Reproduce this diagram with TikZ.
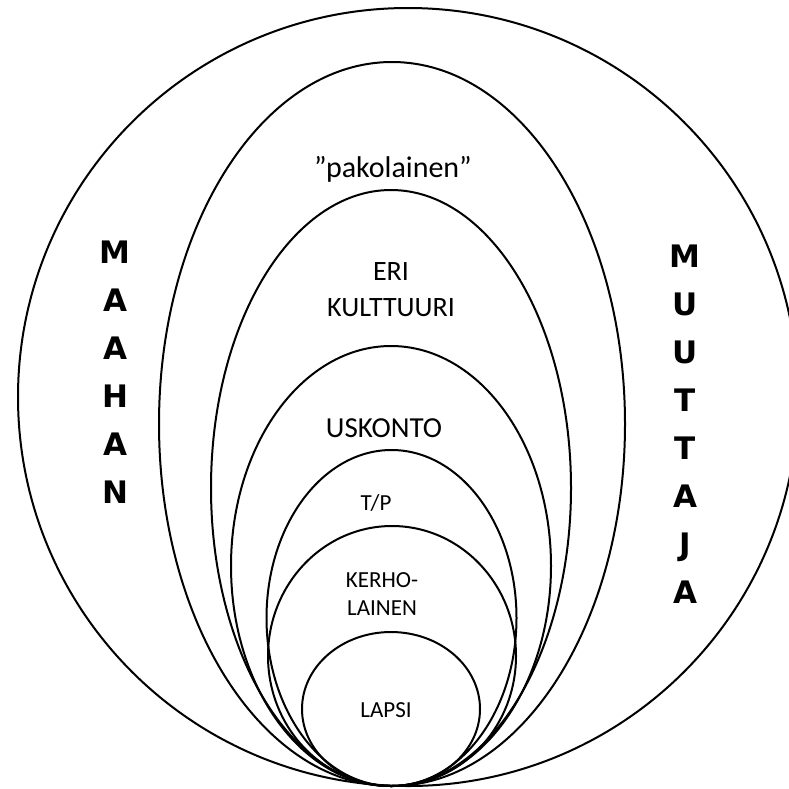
\documentclass[tikz,border=0pt]{standalone}
\usepackage{fontspec}
\setmainfont{Carlito}
\newfontfamily\heavyfont{DejaVu Sans}
\usepackage{tikz}

\begin{document}
\begin{tikzpicture}[x=1pt, y=-1pt,
		ring/.style={draw=black, line width=2pt},
		word/.style={inner sep=0pt, align=center},
		side/.style={inner sep=0pt, align=center, font=\heavyfont\bfseries\fontsize{31}{48}\selectfont}]
	\useasboundingbox (0,0) rectangle (789,788);
	\clip (0,0) rectangle (789,788);
	
	% ========== renkaat ==========
	\draw[ring] (408,397) ellipse [x radius=390pt, y radius=389pt];
	\draw[ring] (392,424) ellipse [x radius=233pt, y radius=362pt];
	\draw[ring] (391,488) ellipse [x radius=180pt, y radius=298pt];
	\draw[ring] (391,566) ellipse [x radius=160pt, y radius=220pt];
	\draw[ring] (391.5,618) ellipse [x radius=125pt, y radius=168pt];
	\draw[ring] (392,656) ellipse [x radius=124pt, y radius=130pt];
	\draw[ring] (391,709) ellipse [x radius=89pt, y radius=77pt];
	
	% ========== tekstit ==========
	\node[word, font=\fontsize{30}{36}\selectfont] (pako) at (393,169) {”pakolainen”};
	\node[word, font=\fontsize{28}{36}\selectfont] (kult) at (391,290) {ERI\\KULTTUURI};
	\node[word, font=\fontsize{29}{36}\selectfont] (usk) at (384,428) {USKONTO};
	\node[word, font=\fontsize{23}{28}\selectfont] (tp) at (376,503) {T/P};
	\node[word, font=\fontsize{23}{28}\selectfont] (kerho) at (382,594) {KERHO-\\LAINEN};
	\node[word, font=\fontsize{23}{28}\selectfont] (lapsi) at (386,710) {LAPSI};
	
	% ========== sivut ==========
	\node[side] (mahan) at (115,372) {M\\A\\A\\H\\A\\N};
	\node[side] (muuttaja) at (685,424) {M\\U\\U\\T\\T\\A\\J\\A};
\end{tikzpicture}
\end{document}
